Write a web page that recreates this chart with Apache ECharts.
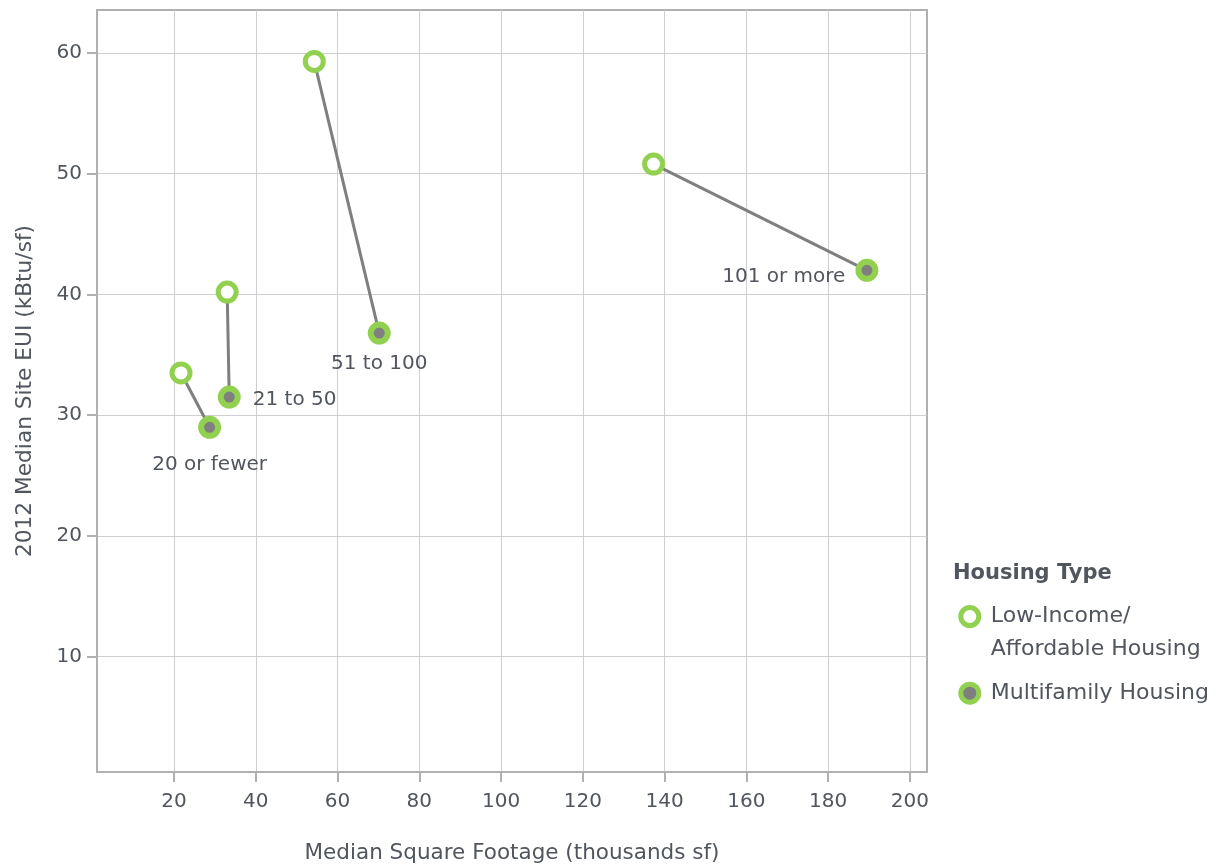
<!DOCTYPE html>
<html><head><meta charset="utf-8">
<script src="https://cdn.jsdelivr.net/npm/echarts@6/dist/echarts.min.js"></script>
<style>html,body{margin:0;padding:0;background:#fff}#c{width:1227px;height:865px}</style>
</head><body><div id="c"></div>
<script>
// ---- data ----
const categories = ['20 or fewer', '21 to 50', '51 to 100', '101 or more'];
const lowIncomeSqft = [21.7, 33.0, 54.3, 137.3];
const lowIncomeEui = [33.5, 40.2, 59.3, 50.8];
const multifamilySqft = [28.7, 33.5, 70.2, 189.5];
const multifamilyEui = [29.0, 31.5, 36.8, 42.0];
const xTicks = [20, 40, 60, 80, 100, 120, 140, 160, 180, 200];
const yTicks = [10, 20, 30, 40, 50, 60];
const lowName = 'Low-Income/Affordable Housing';
const multiName = 'Multifamily Housing';

// ---- styles ----
const FONT = '"DejaVu Sans"';
const TXT = '#50555e';
const GREEN = '#92d050';
const GREY = '#7f7f7f';
const AXIS = '#b0b0b0';
const labelLayout = [
  { position: 'bottom', distance: 16, offset: [0, 0] },
  { position: 'right', distance: 12, offset: [0, 3] },
  { position: 'bottom', distance: 9, offset: [0, 0] },
  { position: 'left', distance: 10, offset: [0, 6] }
];

const lineSeries = categories.map((c, i) => ({
  type: 'line',
  name: 'link ' + c,
  data: [[lowIncomeSqft[i], lowIncomeEui[i]], [multifamilySqft[i], multifamilyEui[i]]],
  symbol: 'none',
  silent: true,
  z: 1,
  lineStyle: { color: GREY, width: 3 }
}));

const chart = echarts.init(document.getElementById('c'), null, { renderer: 'canvas' });
chart.setOption({
  animation: false,
  backgroundColor: '#fff',
  textStyle: { fontFamily: FONT, color: TXT },
  title: {
    text: 'Housing Type', left: 953, top: 563, padding: 0,
    textStyle: { fontFamily: FONT, fontWeight: 'bold', fontSize: 21, color: TXT }
  },
  legend: {
    orient: 'vertical', left: 953.3, top: 562, itemGap: 10.7,
    itemWidth: 18, itemHeight: 18,
    itemStyle: { borderWidth: 5 },
    data: [
      { name: lowName, icon: 'circle' },
      { name: multiName, icon: 'circle' }
    ],
    formatter: n => n === lowName ? ' \nLow-Income/\nAffordable Housing' : n,
    textStyle: { fontFamily: FONT, fontSize: 22, color: TXT, lineHeight: 33, padding: [0, 0, 0, 7] }
  },
  grid: {
    left: 97, top: 10, right: 300, bottom: 93,
    containLabel: false, outerBoundsMode: 'none',
    show: true, borderColor: AXIS, borderWidth: 2
  },
  xAxis: {
    type: 'value', min: 1.15, max: 204.2,
    name: 'Median Square Footage (thousands sf)', nameLocation: 'middle', nameGap: 70,
    nameTextStyle: { fontFamily: FONT, fontSize: 21.5, color: TXT },
    axisLine: { show: true, lineStyle: { color: AXIS, width: 2 } },
    axisTick: { show: true, length: 10, customValues: xTicks, lineStyle: { color: AXIS, width: 2 } },
    axisLabel: { customValues: xTicks, margin: 20, fontSize: 20, color: TXT, fontFamily: FONT },
    splitLine: { show: true, lineStyle: { color: '#cfcfcf', width: 1 } }
  },
  yAxis: {
    type: 'value', min: 0.45, max: 63.56,
    name: '2012 Median Site EUI (kBtu/sf)', nameLocation: 'middle', nameGap: 61, nameRotate: 90,
    nameTextStyle: { fontFamily: FONT, fontSize: 21.7, color: TXT },
    axisLine: { show: true, lineStyle: { color: AXIS, width: 2 } },
    axisTick: { show: true, length: 10, customValues: yTicks, lineStyle: { color: AXIS, width: 2 } },
    axisLabel: { customValues: yTicks, margin: 15, fontSize: 20, color: TXT, fontFamily: FONT },
    splitLine: { show: true, lineStyle: { color: '#cfcfcf', width: 1 } }
  },
  series: [
    ...lineSeries,
    {
      type: 'scatter', name: lowName, z: 3,
      symbol: 'circle', symbolSize: 18,
      itemStyle: { color: '#ffffff', borderColor: GREEN, borderWidth: 5, opacity: 1 },
      data: lowIncomeSqft.map((x, i) => [x, lowIncomeEui[i]])
    },
    {
      type: 'scatter', name: multiName, z: 3,
      symbol: 'circle', symbolSize: 17,
      itemStyle: { color: GREY, borderColor: GREEN, borderWidth: 6, opacity: 1 },
      data: multifamilySqft.map((x, i) => ({
        value: [x, multifamilyEui[i]],
        name: categories[i],
        label: {
          show: true, formatter: categories[i],
          position: labelLayout[i].position, distance: labelLayout[i].distance, offset: labelLayout[i].offset,
          fontFamily: FONT, fontSize: 20, color: TXT
        }
      }))
    }
  ]
});
</script>
</body></html>
